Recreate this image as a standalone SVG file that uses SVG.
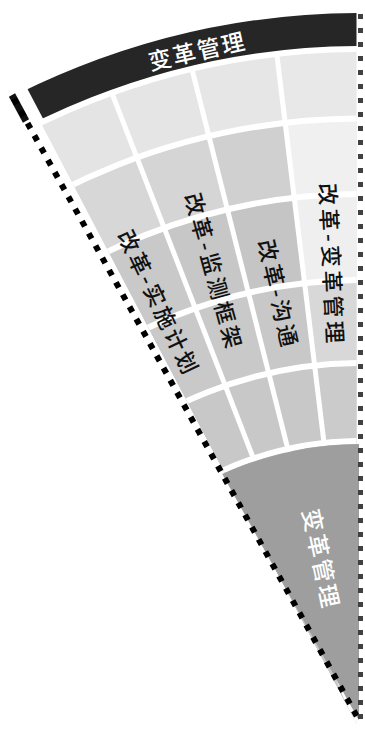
<svg xmlns="http://www.w3.org/2000/svg" width="365" height="731" viewBox="0 0 365 731">
<style>
  .sep{fill:none;stroke:#ffffff;stroke-width:6}
  .rad{stroke:#ffffff;stroke-width:5}
  .lbl{font-family:"Noto Sans CJK SC","Noto Sans CJK JP",sans-serif;font-size:22px;font-weight:500;fill:#111111;text-anchor:middle;dominant-baseline:central}
  .wlbl{font-family:"Noto Sans CJK SC","Noto Sans CJK JP",sans-serif;font-size:23px;font-weight:500;fill:#ffffff;text-anchor:middle;dominant-baseline:central}
</style>
<defs>
  <clipPath id="cellWedge"><polygon points="-23.8,0 356.5,0 356.5,723.6"/></clipPath>
  <clipPath id="darkWedge"><polygon points="-19.25,0 356.5,0 356.5,715"/></clipPath>
  <clipPath id="innerWedge"><polygon points="-40.8,0 359,0 359,720.4"/></clipPath>
  <clipPath id="r1"><circle cx="361" cy="780" r="731"/></clipPath>
  <clipPath id="r2"><circle cx="361" cy="780" r="661.5"/></clipPath>
  <clipPath id="r3"><circle cx="361" cy="780" r="586"/></clipPath>
  <clipPath id="r4"><circle cx="361" cy="780" r="500"/></clipPath>
  <clipPath id="r5"><circle cx="361" cy="780" r="417"/></clipPath>
  <polygon id="col1" points="269,-10 420,-10 420,740 359,731"/>
  <polygon id="col2" points="172,-10 269,-10 359,731"/>
  <polygon id="col3" points="72,-10 172,-10 359,731"/>
  <polygon id="col4" points="-100,-10 72,-10 359,731 -100,740"/>
</defs>
<rect width="365" height="731" fill="#ffffff"/>

<g id="cells" clip-path="url(#cellWedge)">
  <g id="row1" clip-path="url(#r1)">
    <use href="#col1" fill="#e8e8e8"/><use href="#col2" fill="#e6e6e6"/><use href="#col3" fill="#e5e5e5"/><use href="#col4" fill="#e4e4e4"/>
  </g>
  <g id="row2" clip-path="url(#r2)">
    <use href="#col1" fill="#f0f0f0"/><use href="#col2" fill="#d0d0d0"/><use href="#col3" fill="#d5d5d5"/><use href="#col4" fill="#d7d7d7"/>
  </g>
  <g id="row3" clip-path="url(#r3)">
    <use href="#col1" fill="#efefef"/><use href="#col2" fill="#c5c5c5"/><use href="#col3" fill="#c7c7c7"/><use href="#col4" fill="#c9c9c9"/>
  </g>
  <g id="row4" clip-path="url(#r4)">
    <use href="#col1" fill="#d8d8d8"/><use href="#col2" fill="#c8c8c8"/><use href="#col3" fill="#c9c9c9"/><use href="#col4" fill="#c9c9c9"/>
  </g>
  <g id="row5" clip-path="url(#r5)">
    <use href="#col1" fill="#cbcbcb"/><use href="#col2" fill="#c8c8c8"/><use href="#col3" fill="#c8c8c8"/><use href="#col4" fill="#c8c8c8"/>
  </g>
  <g id="separators">
    <line class="rad" x1="269" y1="-10" x2="359" y2="731"/>
    <line class="rad" x1="172" y1="-10" x2="359" y2="731"/>
    <line class="rad" x1="72" y1="-10" x2="359" y2="731"/>
    <circle class="sep" cx="361" cy="780" r="731"/>
    <circle class="sep" cx="361" cy="780" r="661.5"/>
    <circle class="sep" cx="361" cy="780" r="586"/>
    <circle class="sep" cx="361" cy="780" r="500"/>
    <circle class="sep" cx="361" cy="780" r="417"/>
    <circle class="sep" cx="361" cy="780" r="339"/>
  </g>
</g>

<g id="outer-band">
  <g clip-path="url(#darkWedge)">
    <circle cx="361" cy="780" r="750.5" fill="none" stroke="#262626" stroke-width="33"/>
  </g>
  <text class="wlbl" x="196" y="50" font-size="24" textLength="98" lengthAdjust="spacing" transform="rotate(-12.7 196 50)">变革管理</text>
</g>

<g id="inner-sector">
  <g clip-path="url(#innerWedge)">
    <circle cx="361" cy="780" r="336" fill="#9e9e9e"/>
  </g>
  <text class="wlbl" x="322.25" y="557.75" textLength="100" lengthAdjust="spacing" transform="rotate(78.25 322.25 557.75)">变革管理</text>
</g>

<g id="labels">
  <text id="lbl-col1" class="lbl" x="333.25" y="263" textLength="160" lengthAdjust="spacing" transform="rotate(87.2 333.25 263)">改革-变革管理</text>
  <text id="lbl-col2" class="lbl" x="279.5" y="292.5" textLength="109" lengthAdjust="spacing" transform="rotate(77.2 279.5 292.5)">改革-沟通</text>
  <text id="lbl-col3" class="lbl" x="215" y="270" textLength="160" lengthAdjust="spacing" transform="rotate(74.7 215 270)">改革-监测框架</text>
  <text id="lbl-col4" class="lbl" x="159.5" y="301" textLength="156" lengthAdjust="spacing" transform="rotate(64.6 159.5 301)">改革-实施计划</text>
</g>

<g id="edges">
  <line x1="12" y1="95" x2="26" y2="121" stroke="#111" stroke-width="7"/>
  <line x1="13" y1="97" x2="360" y2="722" stroke="#000" stroke-width="6" stroke-dasharray="6 8" stroke-dashoffset="-30"/>
  <line x1="360.5" y1="14" x2="360.5" y2="722" stroke="#404040" stroke-width="5" stroke-dasharray="5 9"/>
</g>
</svg>
